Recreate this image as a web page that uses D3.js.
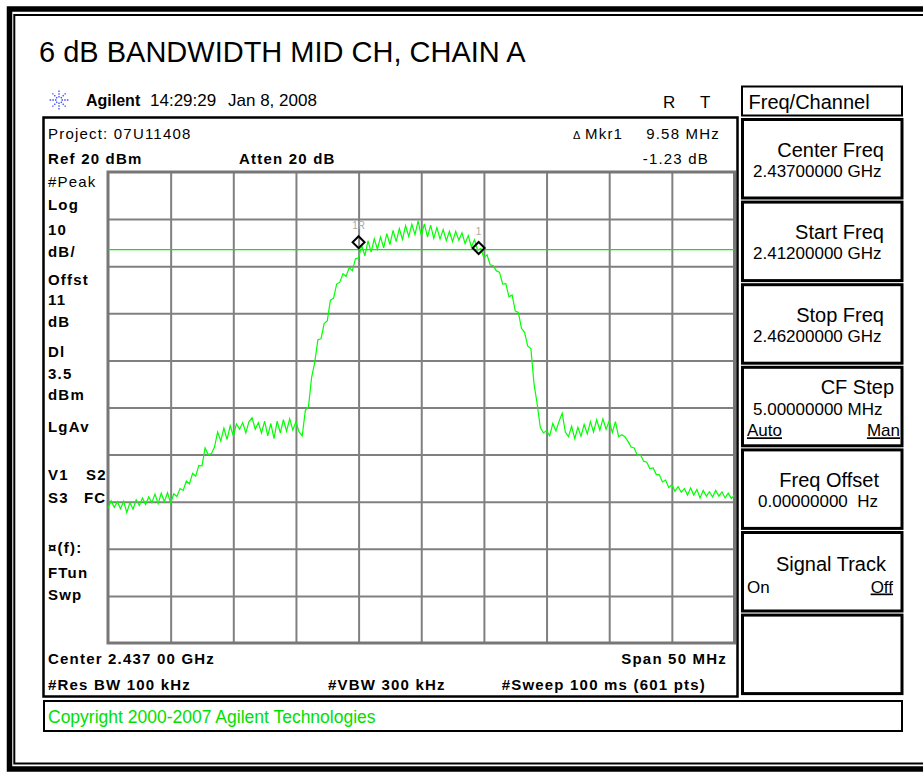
<!DOCTYPE html>
<html>
<head>
<meta charset="utf-8">
<script src="https://cdn.jsdelivr.net/npm/d3@7"></script>
<style>
  body { margin: 0; background: #fff; }
  svg { display: block; font-family: "Liberation Sans", Arial, sans-serif; }
  .ins { font-size: 15px; letter-spacing: 1.2px; fill: #000; }
  .b { font-weight: bold; }
  .key { font-size: 20px; fill: #000; }
  .kv { font-size: 17px; fill: #000; }
  .ul { text-decoration: underline; }
</style>
</head>
<body>
<svg width="923" height="772"></svg>
<script>
// --- data ---
var title = "6 dB BANDWIDTH MID CH, CHAIN A";
var centerGHz = 2.437;
var spanMHz = [-25, 25];          // offsets from centre
var stepMHz = 0.25;
var refLevel = 20, dbPerDiv = 10, nDiv = 10;
var displayLine = 3.5;            // dBm

// trace amplitude (dBm), one value every 0.25 MHz from -25 to +25 MHz
var trace = [
  -51.4,-49.8,-51.2,-50.0,-51.5,-49.9,-52.3,-50.2,
  -51.6,-49.6,-50.8,-49.2,-50.6,-49.0,-50.2,-48.4,
  -50.4,-48.2,-50.0,-48.1,-50.3,-48.3,-48.9,-47.2,
  -47.6,-45.6,-46.2,-44.0,-44.6,-42.3,-42.4,-38.6,
  -40.0,-39.8,-38.4,-35.2,-37.1,-34.4,-36.8,-33.9,
  -36.0,-33.5,-34.6,-33.2,-35.4,-33.0,-32.2,-34.6,
  -33.2,-35.4,-32.9,-36.0,-33.4,-36.6,-32.9,-35.4,
  -32.6,-35.0,-32.4,-34.8,-33.0,-35.2,-36.0,-30.6,
  -29.8,-23.6,-20.4,-15.6,-15.4,-12.2,-11.6,-7.2,
  -6.8,-3.8,-3.4,-1.6,-2.2,-0.3,-1.0,1.6,
  1.8,4.4,2.2,5.4,3.0,5.8,3.6,6.2,
  3.9,6.9,4.6,7.6,5.2,8.0,5.7,8.6,
  6.3,8.9,6.7,9.6,6.5,9.0,6.2,8.7,
  5.9,8.2,5.8,7.8,5.4,7.4,5.2,7.4,
  5.5,7.1,4.8,6.5,4.1,5.6,3.4,3.8,
  1.8,2.4,0.3,0.1,-1.0,-1.3,-3.8,-3.7,
  -6.5,-6.1,-9.5,-9.8,-13.2,-14.1,-17.0,-17.5,
  -25.0,-29.2,-34.2,-35.4,-34.9,-36.0,-33.4,-35.0,
  -32.9,-31.2,-35.2,-36.2,-34.0,-36.6,-34.2,-36.1,
  -33.6,-35.6,-33.0,-35.2,-32.6,-34.8,-32.4,-34.6,
  -32.9,-35.3,-33.0,-36.2,-35.8,-36.2,-37.2,-38.4,
  -38.6,-40.2,-40.1,-41.4,-41.6,-43.0,-42.8,-44.2,
  -44.3,-45.8,-45.4,-47.0,-46.4,-47.8,-46.8,-48.0,
  -47.2,-48.6,-47.1,-48.6,-47.4,-49.2,-47.6,-48.8,
  -47.9,-49.0,-47.6,-48.8,-47.9,-49.2,-48.2,-49.3,
  -48.6
];

var markerNames = ["1R", "1"];
var markerFreq = [-5.0, 4.58];
var markerAmp = [5.1, 3.87];

var headerTexts = ["Agilent", "14:29:29", "Jan 8, 2008"];
var leftLabels = ["#Peak","Log","10","dB/","Offst","11","dB","Dl","3.5","dBm","LgAv","V1","S3","¤(f):","FTun","Swp"];
var softkeyTitles = ["Center Freq","Start Freq","Stop Freq","CF Step","Freq Offset","Signal Track",""];
var softkeyValues = ["2.43700000 GHz","2.41200000 GHz","2.46200000 GHz","5.00000000 MHz","0.00000000  Hz","",""];

// --- drawing ---
var svg = d3.select("svg");
svg.append("rect").attr("width", 923).attr("height", 772).attr("fill", "#fff");

// outer frame (double line)
svg.append("rect").attr("x", 9.5).attr("y", 9).attr("width", 950).attr("height", 760)
  .attr("fill", "none").attr("stroke", "#000").attr("stroke-width", 5.5);
svg.append("rect").attr("x", 14.3).attr("y", 15).attr("width", 950).attr("height", 748.5)
  .attr("fill", "none").attr("stroke", "#000").attr("stroke-width", 2);

svg.append("text").attr("x", 39).attr("y", 62).attr("font-size", 29).text(title);

// agilent star icon
var star = svg.append("g").attr("transform", "translate(59,100)");
d3.range(8).forEach(function(i) {
  var a = i * Math.PI / 4;
  star.append("line")
    .attr("x1", 2.5 * Math.cos(a)).attr("y1", 2.5 * Math.sin(a))
    .attr("x2", 9.5 * Math.cos(a)).attr("y2", 9.5 * Math.sin(a))
    .attr("stroke", "#3a4cff").attr("stroke-width", 1.3).attr("stroke-dasharray", "1.5,1.2");
});
svg.append("text").attr("x", 86).attr("y", 106).attr("font-size", 16).attr("font-weight", "bold").text(headerTexts[0]);
svg.append("text").attr("x", 150).attr("y", 106).attr("font-size", 17).text(headerTexts[1]);
svg.append("text").attr("x", 228).attr("y", 106).attr("font-size", 17).text(headerTexts[2]);
svg.append("text").attr("x", 663).attr("y", 108).attr("font-size", 17).text("R");
svg.append("text").attr("x", 700).attr("y", 108).attr("font-size", 17).text("T");

// display box
svg.append("rect").attr("x", 43.5).attr("y", 117.5).attr("width", 694).attr("height", 579)
  .attr("fill", "#fff").attr("stroke", "#000").attr("stroke-width", 2.5);

function ins(x, y, s, bold, anchor) {
  return svg.append("text").attr("class", "ins" + (bold ? " b" : ""))
    .attr("x", x).attr("y", y).attr("text-anchor", anchor || "start").text(s);
}
ins(48, 138.5, "Project: 07U11408");
ins(48, 163.5, "Ref 20 dBm", true);
ins(239, 163.5, "Atten 20 dB", true);
svg.append("text").attr("x", 573).attr("y", 138.5).attr("font-size", 11).text("\u0394");
ins(585, 138.5, "Mkr1");
ins(720, 138.5, "9.58 MHz", false, "end");
ins(709, 163.5, "-1.23 dB", false, "end");

var leftY = [186.5,210,235,256.7,285,305,326.7,356.7,379,400,431.7,480,503.3,553,577.7,600];
leftLabels.forEach(function(s, i) { ins(48, leftY[i], s, i !== 0); });
ins(86, 480, "S2", true);
ins(84, 503.3, "FC", true);

ins(48, 664, "Center " + centerGHz.toFixed(3) + " 00 GHz", true);
ins(727, 664, "Span " + (spanMHz[1] - spanMHz[0]) + " MHz", true, "end");
ins(48, 690, "#Res BW 100 kHz", true);
ins(328, 690, "#VBW 300 kHz", true);
ins(706, 690, "#Sweep 100 ms (601 pts)", true, "end");

// grid
var x = d3.scaleLinear().domain(spanMHz).range([108, 734.5]);
var y = d3.scaleLinear().domain([refLevel - dbPerDiv * nDiv, refLevel]).range([643, 172]);

var grid = svg.append("g");
grid.append("g").attr("transform", "translate(0,643)")
  .call(d3.axisBottom(x).tickValues(d3.range(-20, 25, 5)).tickSize(-471).tickFormat(""))
  .call(function(g) { g.select(".domain").remove(); });
grid.append("g").attr("transform", "translate(108,0)")
  .call(d3.axisLeft(y).tickValues(d3.range(-70, 20, 10)).tickSize(-626.5).tickFormat(""))
  .call(function(g) { g.select(".domain").remove(); });
grid.selectAll(".tick line").attr("stroke", "#808080").attr("stroke-width", 2);
grid.append("rect").attr("x", 108).attr("y", 172).attr("width", 626.5).attr("height", 471)
  .attr("fill", "none").attr("stroke", "#777").attr("stroke-width", 3);

// display line
svg.append("line").attr("x1", x(spanMHz[0])).attr("x2", x(spanMHz[1]))
  .attr("y1", y(displayLine)).attr("y2", y(displayLine))
  .attr("stroke", "#00ee00").attr("stroke-width", 1.3);

// trace
var line = d3.line()
  .x(function(d, i) { return x(spanMHz[0] + i * stepMHz); })
  .y(function(d) { return y(d); });
svg.append("path").datum(trace).attr("d", line)
  .attr("fill", "none").attr("stroke", "#00ff00").attr("stroke-width", 1.2);

// markers
markerNames.forEach(function(name, i) {
  var mx = x(markerFreq[i]), my = y(markerAmp[i]);
  svg.append("path")
    .attr("d", "M" + mx + "," + (my - 6) + "L" + (mx + 6) + "," + my + "L" + mx + "," + (my + 6) + "L" + (mx - 6) + "," + my + "Z")
    .attr("fill", "none").attr("stroke", "#000").attr("stroke-width", 2);
  svg.append("text").attr("x", mx).attr("y", my - 13).attr("text-anchor", "middle")
    .attr("font-size", 10).attr("fill", "#aaa").text(name);
});

// softkey panel
svg.append("rect").attr("x", 742).attr("y", 86.5).attr("width", 160).attr("height", 29)
  .attr("fill", "none").attr("stroke", "#000").attr("stroke-width", 2);
svg.append("text").attr("class", "key").attr("x", 748.5).attr("y", 109).text("Freq/Channel");

softkeyTitles.forEach(function(t, i) {
  var top = 119.5 + i * 82.6;
  svg.append("rect").attr("x", 742.5).attr("y", top).attr("width", 159.5).attr("height", 78.5)
    .attr("fill", "none").attr("stroke", "#000").attr("stroke-width", 3);
  if (i === 3) {
    svg.append("text").attr("class", "key").attr("x", 894).attr("y", top + 27).attr("text-anchor", "end").text(t);
    svg.append("text").attr("class", "kv").attr("x", 753).attr("y", top + 48).text(softkeyValues[i]);
    svg.append("text").attr("class", "kv ul").attr("x", 747).attr("y", top + 69).text("Auto");
    svg.append("text").attr("class", "kv ul").attr("x", 900).attr("y", top + 69).attr("text-anchor", "end").text("Man");
  } else if (i === 5) {
    svg.append("text").attr("class", "key").attr("x", 886).attr("y", top + 38).attr("text-anchor", "end").text(t);
    svg.append("text").attr("class", "kv").attr("x", 747).attr("y", top + 60).text("On");
    svg.append("text").attr("class", "kv ul").attr("x", 893).attr("y", top + 60).attr("text-anchor", "end").text("Off");
  } else if (t) {
    var endX = i === 4 ? 879 : 884;
    svg.append("text").attr("class", "key").attr("x", endX).attr("y", top + 37).attr("text-anchor", "end").text(t);
    svg.append("text").attr("class", "kv").attr("x", i === 4 ? 758 : 753).attr("y", top + 57)
      .style("white-space", "pre").text(softkeyValues[i]);
  }
});

// copyright bar
svg.append("rect").attr("x", 44).attr("y", 701).attr("width", 858).attr("height", 30)
  .attr("fill", "none").attr("stroke", "#000").attr("stroke-width", 2);
svg.append("text").attr("x", 48).attr("y", 723).attr("font-size", 17.5).attr("fill", "#00e000")
  .text("Copyright 2000-2007 Agilent Technologies");
</script>
</body>
</html>
